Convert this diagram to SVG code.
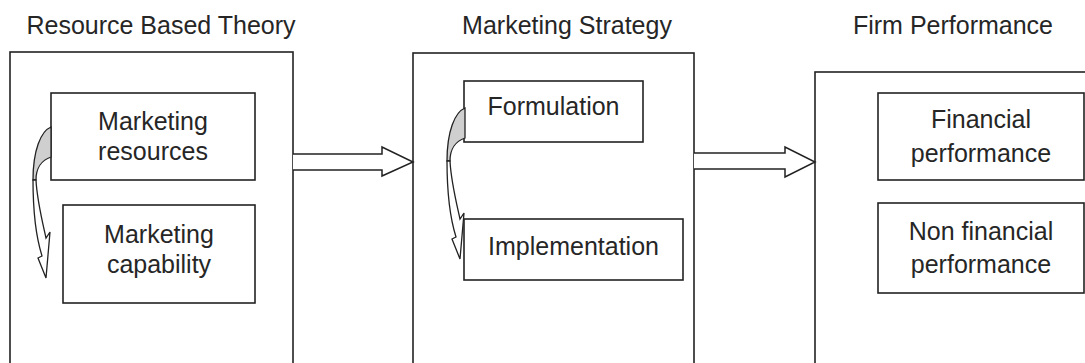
<svg xmlns="http://www.w3.org/2000/svg" width="1085" height="363" viewBox="0 0 1085 363">
<style>
  .box{fill:#fff;stroke:#222;stroke-width:1.6}
  .inner{fill:#fff;stroke:#222;stroke-width:1.6}
  .t{font-family:"Liberation Sans",Arial,sans-serif;font-size:25px;fill:#262626;text-anchor:middle}
  .blk{fill:#fff;stroke:#222;stroke-width:1.5;stroke-linejoin:miter}
  .back{fill:#cfcfcf;stroke:#222;stroke-width:1.3}
  .front{fill:#fff;stroke:#222;stroke-width:1.3}
</style>
<defs>
  <g id="curved">
    <path class="back" d="M51,127 C41,131 33,150 33,180 L36,180 C36,168 42,160 51,157 Z"/>
    <path class="front" d="M33,180 C33,215 37,240 42,256 L38,258 L46,278 L50,232 L46,238 C42,220 37,200 36,180 Z"/>
  </g>
</defs>
<rect width="1085" height="363" fill="#fff"/>
<g id="titles">
  <text class="t" x="161" y="34">Resource Based Theory</text>
  <text class="t" x="567" y="34">Marketing Strategy</text>
  <text class="t" x="953" y="34">Firm Performance</text>
</g>
<g id="resource-based-theory">
  <rect class="box" x="10" y="52" width="283" height="330"/>
  <g id="marketing-resources">
    <rect class="inner" x="51" y="93" width="204" height="87"/>
    <text class="t" x="153" y="130">Marketing</text>
    <text class="t" x="153" y="160">resources</text>
  </g>
  <g id="marketing-capability">
    <rect class="inner" x="63" y="205" width="192" height="98"/>
    <text class="t" x="159" y="243">Marketing</text>
    <text class="t" x="159" y="273">capability</text>
  </g>
</g>
<g id="marketing-strategy">
  <rect class="box" x="413" y="53" width="281" height="330"/>
  <g id="formulation">
    <rect class="inner" x="464" y="81" width="179" height="61"/>
    <text class="t" x="553.5" y="115">Formulation</text>
  </g>
  <g id="implementation">
    <rect class="inner" x="464" y="219" width="219" height="61"/>
    <text class="t" x="573.5" y="255">Implementation</text>
  </g>
</g>
<g id="firm-performance">
  <rect class="box" x="815" y="72" width="300" height="330"/>
  <g id="financial-performance">
    <rect class="inner" x="878" y="93" width="206" height="87"/>
    <text class="t" x="981" y="128">Financial</text>
    <text class="t" x="981" y="162">performance</text>
  </g>
  <g id="non-financial-performance">
    <rect class="inner" x="878" y="203" width="206" height="90"/>
    <text class="t" x="981" y="240">Non financial</text>
    <text class="t" x="981" y="273">performance</text>
  </g>
</g>
<g id="connectors">
  <path class="blk" d="M293,154 L382,154 L382,147 L413,162 L382,176 L382,170 L293,170"/>
  <path class="blk" d="M694,153 L785,153 L785,147 L815,162 L785,177 L785,169 L694,169"/>
  <use href="#curved"/>
  <use href="#curved" transform="translate(414,-19)"/>
</g>
</svg>
